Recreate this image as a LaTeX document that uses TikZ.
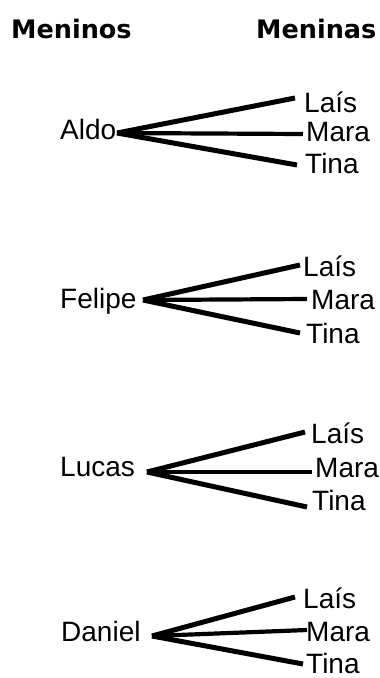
\documentclass[tikz,border=0pt]{standalone}
\usepackage{fontspec}
\setmainfont{Liberation Sans}
\newfontfamily\headfont{DejaVu Sans}
\begin{document}
\begin{tikzpicture}[x=1pt,y=-1pt,
  head/.style={anchor=base west, inner sep=0pt, font=\headfont\bfseries\fontsize{25.5}{25.5}\selectfont},
  kid/.style={anchor=base west, inner sep=0pt, font=\fontsize{28}{28}\selectfont},
  link/.style={line width=5pt},
  midlink/.style={line width=4.2pt}]
\path[use as bounding box] (0,0) rectangle (380,678);

% column headers
\node[head] (hboys) at (11,38) {Meninos};
\node[head] (hgirls) at (256,38) {Meninas};

% Aldo
\node[kid] (aldo) at (60,139) {Aldo};
\coordinate (o1) at (117,133);
\node[kid] (l1) at (304,112) {Laís};
\node[kid] (m1) at (306,141) {Mara};
\node[kid] (t1) at (305,173) {Tina};
\coordinate (l1e) at (295,98);
\coordinate (m1e) at (303,134);
\coordinate (t1e) at (297,165);
\draw[link] (o1) -- (l1e);
\draw[midlink] (o1) -- (m1e);
\draw[link] (o1) -- (t1e);

% Felipe
\node[kid] (felipe) at (60,308) {Felipe};
\coordinate (o2) at (143,300);
\node[kid] (l2) at (303,276) {Laís};
\node[kid] (m2) at (311,309) {Mara};
\node[kid] (t2) at (306,343) {Tina};
\coordinate (l2e) at (300,265);
\coordinate (m2e) at (307,299);
\coordinate (t2e) at (300,333);
\draw[link] (o2) -- (l2e);
\draw[midlink] (o2) -- (m2e);
\draw[link] (o2) -- (t2e);

% Lucas
\node[kid] (lucas) at (60,476) {Lucas};
\coordinate (o3) at (147,472);
\node[kid] (l3) at (311,443) {Laís};
\node[kid] (m3) at (315,477) {Mara};
\node[kid] (t3) at (312,510) {Tina};
\coordinate (l3e) at (305,432);
\coordinate (m3e) at (312,472);
\coordinate (t3e) at (307,507);
\draw[link] (o3) -- (l3e);
\draw[midlink] (o3) -- (m3e);
\draw[link] (o3) -- (t3e);

% Daniel
\node[kid] (daniel) at (61,641) {Daniel};
\coordinate (o4) at (152,636);
\node[kid] (l4) at (303,608) {Laís};
\node[kid] (m4) at (306,641) {Mara};
\node[kid] (t4) at (306,673) {Tina};
\coordinate (l4e) at (295,597);
\coordinate (m4e) at (307,630);
\coordinate (t4e) at (303,664);
\draw[link] (o4) -- (l4e);
\draw[midlink] (o4) -- (m4e);
\draw[link] (o4) -- (t4e);
\end{tikzpicture}
\end{document}
